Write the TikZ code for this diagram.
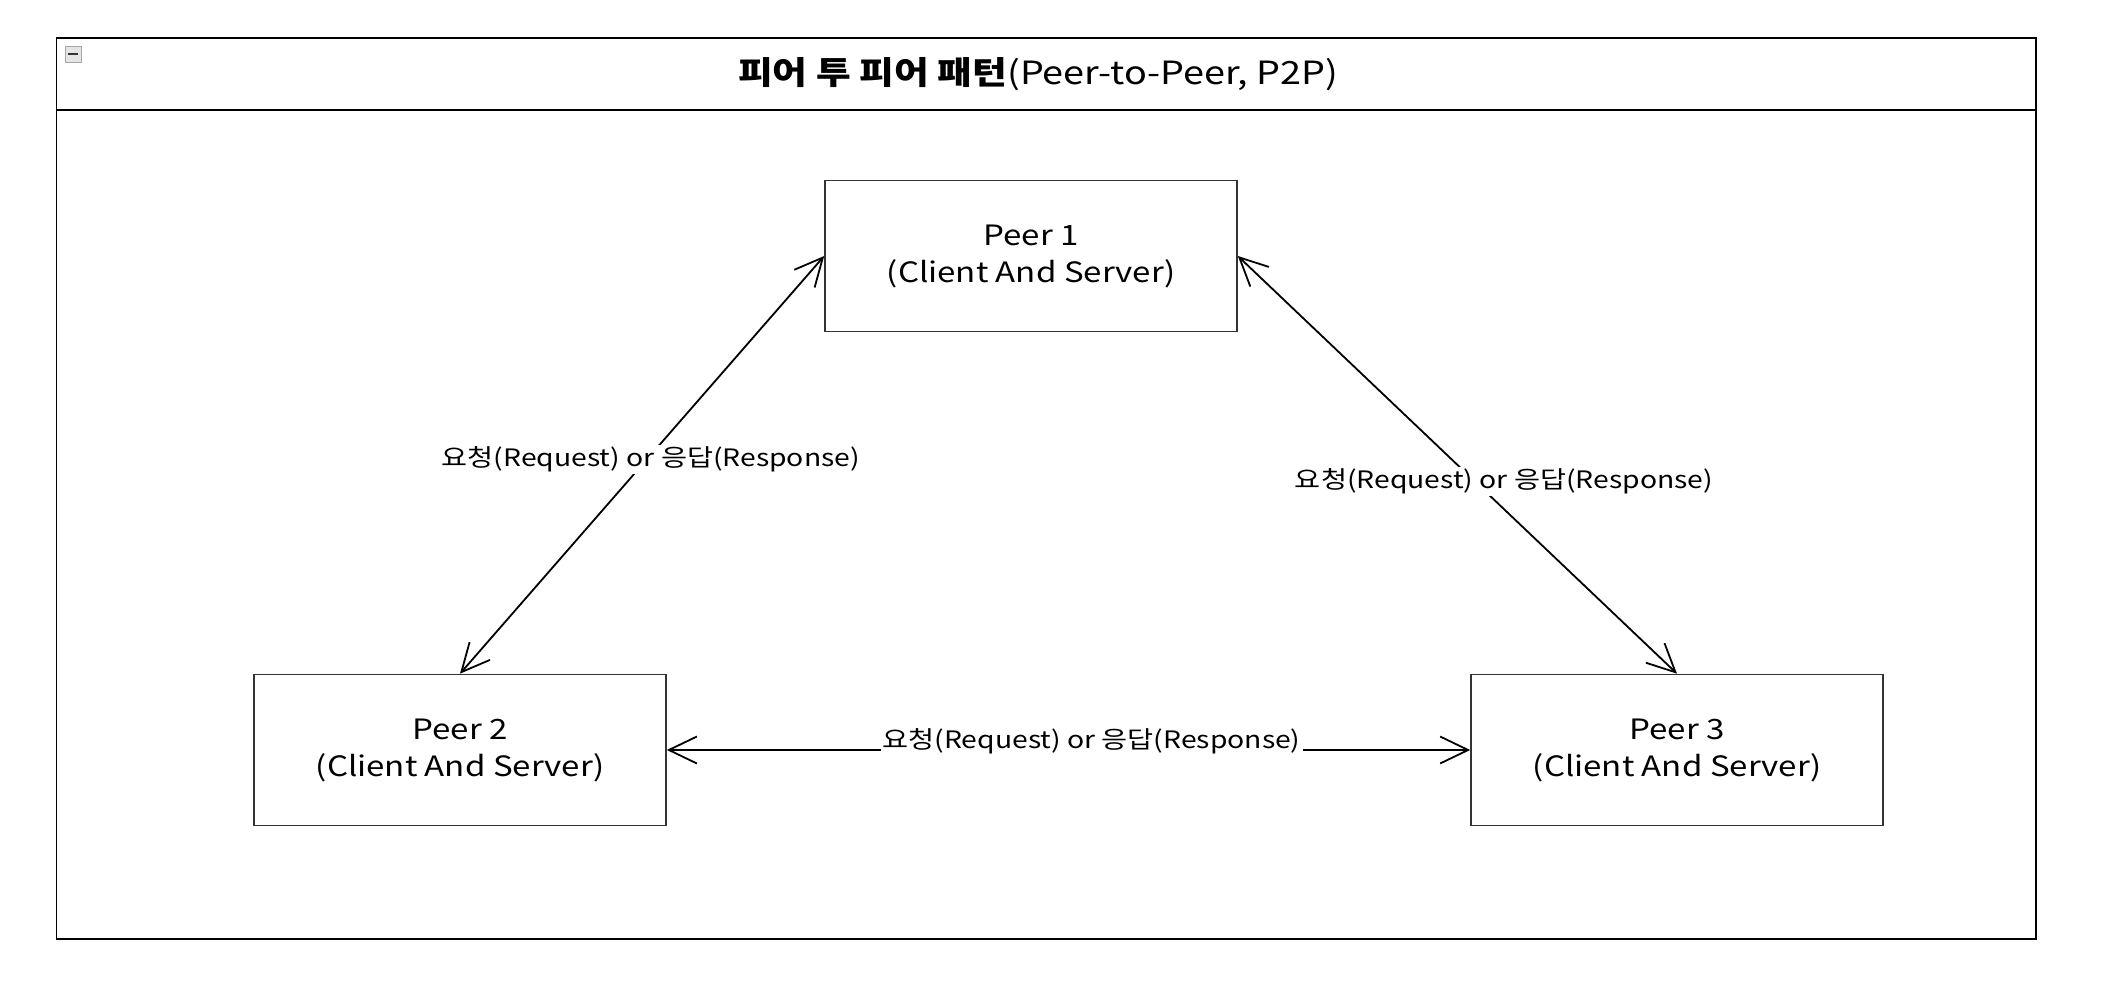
\documentclass[tikz,border=0pt]{standalone}
\usepackage{fontspec}
\setmainfont[FakeStretch=1.18]{Noto Sans CJK KR}
\usetikzlibrary{arrows.meta}
\tikzset{
  frameline/.style={draw=black, line width=0.9pt},
  peerbox/.style={draw=black!80, line width=0.8pt, fill=white, align=center,
    minimum width=206pt, minimum height=75.5pt, inner sep=0pt,
    font=\fontsize{14}{18.5}\selectfont},
  lbl/.style={fill=white, inner sep=1pt, font=\fontsize{12}{14}\selectfont},
  conn/.style={line width=0.9pt, black, <->},
  >={Straight Barb[length=14pt,width=13.5pt]}
}
\begin{document}
\begin{tikzpicture}[x=0.5pt,y=-0.5pt]
\useasboundingbox (0,0) rectangle (2110,1004);
% container frame
\draw[frameline] (56.5,37.7) rectangle (2036,939);
\draw[frameline] (56.5,110.3) -- (2036,110.3);
% collapse icon
\node[draw=gray!70, fill=gray!20, minimum width=8pt, minimum height=8pt, inner sep=0pt] (icon) at (73,54) {};
\draw[line width=1pt, black!80] ([xshift=-2.5pt]icon.center) -- ([xshift=2.5pt]icon.center);
% title
\node[font=\fontsize{16}{20}\selectfont, inner sep=0pt] (title) at (1038,74)
  {\textbf{피어 투 피어 패턴}(Peer-to-Peer, P2P)};
% peers
\node[peerbox] (p1) at (1031,256) {Peer 1\\(Client And Server)};
\node[peerbox] (p2) at (460,750) {Peer 2\\(Client And Server)};
\node[peerbox] (p3) at (1677,750) {Peer 3\\(Client And Server)};
% connectors
\draw[conn] (p1.west) -- node[lbl, pos=0.487, xshift=2pt] (l12) {요청(Request) or 응답(Response)} (p2.north);
\draw[conn] (p1.east) -- node[lbl, pos=0.54, xshift=14.5pt] (l13) {요청(Request) or 응답(Response)} (p3.north);
\draw[conn] (p2.east) -- node[lbl, pos=0.5, xshift=11.5pt, yshift=4.5pt] (l23) {요청(Request) or 응답(Response)} (p3.west);
\end{tikzpicture}
\end{document}
